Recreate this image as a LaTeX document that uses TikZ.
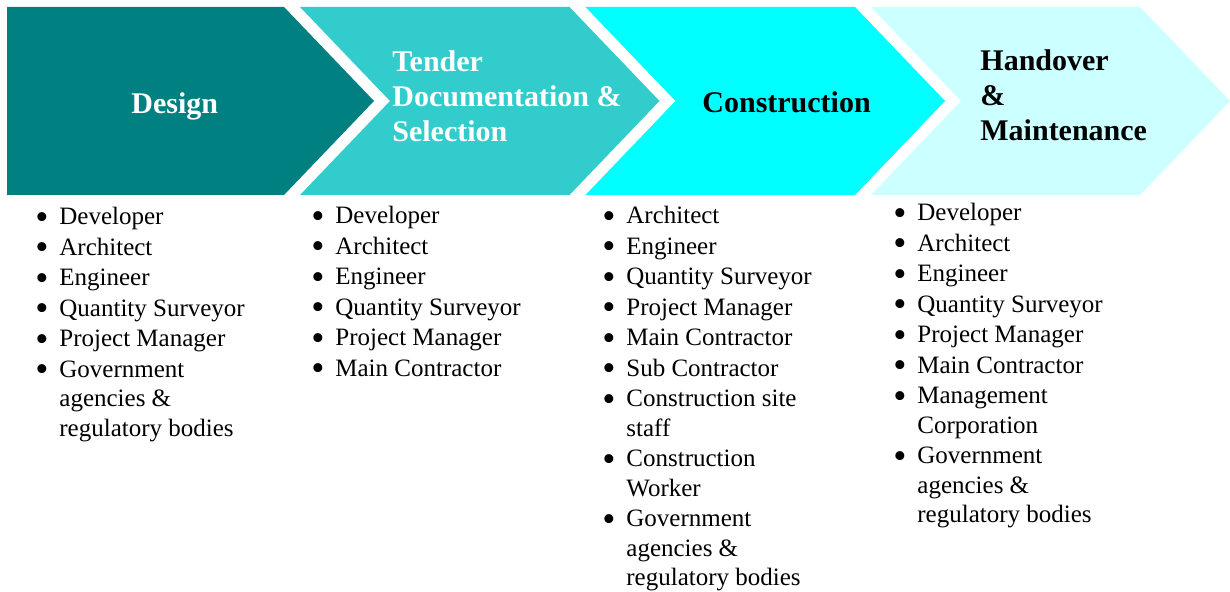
\documentclass[tikz,border=0pt]{standalone}
\usepackage{fontspec}
\usepackage{xcolor}
\setmainfont{Liberation Serif}
\usetikzlibrary{positioning}

\definecolor{designteal}{HTML}{008080}
\definecolor{tenderteal}{HTML}{33CCCC}
\definecolor{buildcyan}{HTML}{00FFFF}
\definecolor{handcyan}{HTML}{CCFFFF}

\newcommand{\bul}{\makebox[12pt][l]{\raisebox{-0.17em}[0pt][0pt]{\scalebox{1.5}{\textbullet}}}}
\newcommand{\ind}{\hspace*{12pt}}
\newcommand{\lines}[1]{\begin{tabular}[t]{@{}l@{}}#1\end{tabular}}

\begin{document}
\begin{tikzpicture}[x=0.5pt,y=-0.5pt,
    phase/.style={anchor=base west,inner sep=0pt,font=\bfseries\fontsize{15}{17.5}\selectfont},
    roles/.style={anchor=base west,inner sep=0pt,font=\fontsize{12.5}{14.75}\selectfont}]
        \useasboundingbox (0,0) rectangle (1230,592);
        % chevrons
        \fill[designteal] (7,7) -- (284,7) -- (374,101) -- (284,195) -- (7,195) -- cycle;
        \fill[tenderteal] (300,7) -- (569.5,7) -- (659.5,101) -- (569.5,195) -- (300,195) -- (390,101) -- cycle;
        \fill[buildcyan] (585.5,7) -- (855,7) -- (945,101) -- (855,195) -- (585.5,195) -- (675.5,101) -- cycle;
        \fill[handcyan] (871,7) -- (1140,7) -- (1230,101) -- (1140,195) -- (871,195) -- (961,101) -- cycle;
        % phase titles
        \node[phase,text=white] (design) at (131,114) {Design};
        \node[phase,text=white] (tender) at (392,72) {\lines{Tender\\Documentation \&\\Selection}};
        \node[phase,text=black] (build) at (702,113) {Construction};
        \node[phase,text=black] (handover) at (980,71) {\lines{Handover\\\&\\Maintenance}};
        % people involved
        \node[roles] (designroles) at (35,225) {\lines{\bul Developer\\[0.5pt]\bul Architect\\[0.5pt]\bul Engineer\\[0.5pt]\bul Quantity Surveyor\\[0.5pt]\bul Project Manager\\[0.5pt]\bul Government\\\ind agencies \&\\\ind regulatory bodies}};
        \node[roles] (tenderroles) at (311,224) {\lines{\bul Developer\\[0.5pt]\bul Architect\\[0.5pt]\bul Engineer\\[0.5pt]\bul Quantity Surveyor\\[0.5pt]\bul Project Manager\\[0.5pt]\bul Main Contractor}};
        \node[roles] (buildroles) at (602,224) {\lines{\bul Architect\\[0.5pt]\bul Engineer\\[0.5pt]\bul Quantity Surveyor\\[0.5pt]\bul Project Manager\\[0.5pt]\bul Main Contractor\\[0.5pt]\bul Sub Contractor\\[0.5pt]\bul Construction site\\\ind staff\\[0.5pt]\bul Construction\\\ind Worker\\[0.5pt]\bul Government\\\ind agencies \&\\\ind regulatory bodies}};
        \node[roles] (handroles) at (893,221) {\lines{\bul Developer\\[0.5pt]\bul Architect\\[0.5pt]\bul Engineer\\[0.5pt]\bul Quantity Surveyor\\[0.5pt]\bul Project Manager\\[0.5pt]\bul Main Contractor\\[0.5pt]\bul Management\\\ind Corporation\\[0.5pt]\bul Government\\\ind agencies \&\\\ind regulatory bodies}};
    \end{tikzpicture}
\end{document}
